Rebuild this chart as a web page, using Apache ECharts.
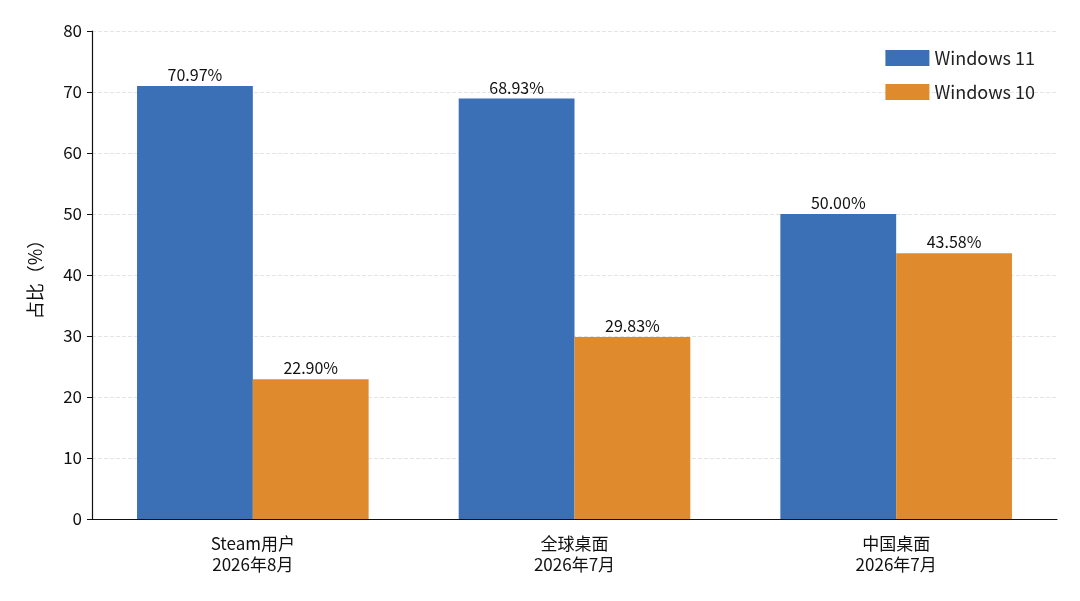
<!DOCTYPE html>
<html><head><meta charset="utf-8">
<script src="https://cdn.jsdelivr.net/npm/echarts@6/dist/echarts.min.js"></script>
<style>html,body{margin:0;padding:0;background:#fff}#c{width:1080px;height:601px}</style>
</head><body><div id="c"></div>
<script>
const categories = ['Steam用户\n2026年8月', '全球桌面\n2026年7月', '中国桌面\n2026年7月'];
const win11 = [70.97, 68.93, 50.00];
const win10 = [22.90, 29.83, 43.58];
const seriesNames = ['Windows 11', 'Windows 10'];
const font = '"Noto Sans CJK SC", "Noto Sans", sans-serif';
const chart = echarts.init(document.getElementById('c'));
const lbl = {show:true, position:'top', distance:3, color:'#111', fontSize:16, fontFamily:font, formatter: p => p.value.toFixed(2) + '%'};
chart.setOption({
  animation:false,
  textStyle:{fontFamily:font},
  grid:{left:92, right:23, top:31, bottom:82},
  legend:{top:44, right:40, orient:'vertical', itemWidth:44, itemHeight:16, itemGap:16,
    textStyle:{fontSize:18, color:'#222', fontFamily:font}, icon:'rect'},
  xAxis:{type:'category', data:categories,
    axisLine:{lineStyle:{color:'#111', width:1.2}}, axisTick:{show:false},
    axisLabel:{color:'#111', fontSize:17, lineHeight:21, margin:14, fontFamily:font}},
  yAxis:{type:'value', min:0, max:80, interval:10, name:'占比（%）', nameLocation:'middle', nameGap:48,
    nameTextStyle:{fontSize:18, color:'#111', fontFamily:font},
    axisLine:{show:true, lineStyle:{color:'#111', width:1.2}}, axisTick:{show:true, length:5, lineStyle:{color:'#111'}},
    axisLabel:{color:'#111', fontSize:17, margin:10},
    splitLine:{lineStyle:{type:'dashed', color:'#e4e4e4'}}},
  series:[
    {name:seriesNames[0], type:'bar', data:win11, itemStyle:{color:'#3b6fb6'}, barGap:'0%', barCategoryGap:'28%', label:lbl},
    {name:seriesNames[1], type:'bar', data:win10, itemStyle:{color:'#e08a2e'}, label:lbl}
  ]
});
</script></body></html>
